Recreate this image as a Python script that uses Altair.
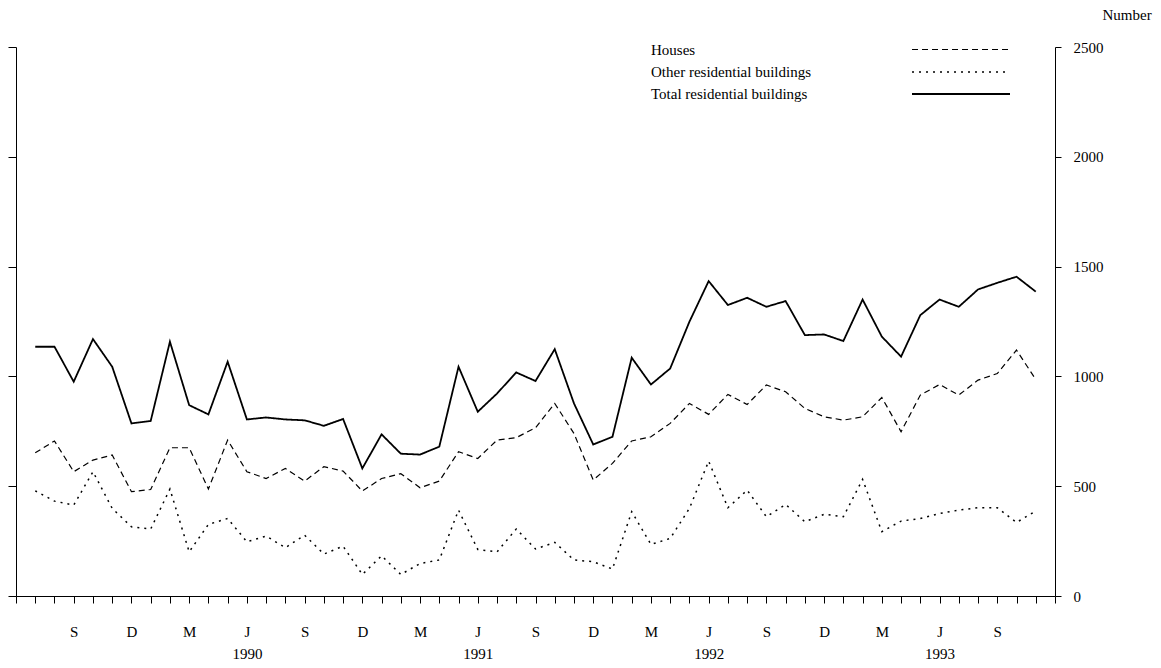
import altair as alt
import pandas as pd

# ---- data ----
all_months = [f"{y}-{m:02d}" for y in range(1989, 1994) for m in range(1, 13)]
months = all_months[all_months.index("1989-07"): all_months.index("1993-11") + 1]
axis_months = ["1989-06"] + months + ["1993-12"]

series_names = ["Houses", "Other residential buildings", "Total residential buildings"]

houses = [652, 706, 566, 619, 642, 475, 485, 675, 675, 487, 710, 566, 535, 581, 523, 589,
          569, 478, 535, 557, 493, 523, 657, 626, 710, 721, 766, 877, 740, 528, 604, 706,
          725, 786, 877, 827, 918, 872, 961, 930, 854, 816, 801, 816, 904, 748, 915, 963,
          915, 983, 1013, 1120, 986]
other = [479, 432, 414, 566, 399, 315, 305, 487, 201, 326, 353, 247, 273, 220, 277, 191,
         227, 98, 183, 98, 148, 164, 391, 212, 201, 305, 214, 244, 164, 156, 123, 384,
         235, 262, 399, 614, 402, 482, 361, 417, 338, 372, 361, 531, 293, 341, 353, 376,
         391, 402, 402, 335, 387]
total = [1135, 1135, 976, 1170, 1044, 786, 797, 1158, 869, 827, 1067, 804, 813, 804, 800, 775,
         806, 581, 736, 648, 644, 680, 1044, 839, 922, 1018, 979, 1124, 877, 690, 725, 1085,
         963, 1036, 1249, 1434, 1325, 1358, 1317, 1343, 1188, 1191, 1161, 1350, 1181, 1090, 1279, 1350,
         1317, 1396, 1426, 1454, 1386]
y_ticks = [0, 500, 1000, 1500, 2000, 2500]

rows = []
for name, vals in zip(series_names, [houses, other, total]):
    for m, v in zip(months, vals):
        rows.append({"month": m, "series": name, "value": v})
df = pd.DataFrame(rows)

FONT = "Liberation Serif"

m = "substring(datum.value, 5, 7)"
label_expr = (
    f"(datum.value == '1993-12' || datum.value == '1989-06') ? '' : "
    f"{m} == '09' ? 'S' : {m} == '12' ? 'D' : {m} == '03' ? 'M' : "
    f"{m} == '06' ? ['J', substring(datum.value, 0, 4)] : ''"
)

x_enc = alt.X(
    "month:O",
    sort=axis_months,
    scale=alt.Scale(type="point", domain=axis_months, padding=0),
    axis=alt.Axis(
        title=None, labelExpr=label_expr, labelOverlap=False, labelAngle=0,
        tickSize=7, labelPadding=21, labelLineHeight=22, labelBaseline="top",
        labelFont=FONT, labelFontSize=15, labelColor="black",
        domainColor="black", tickColor="black", grid=False, labelFlush=False,
    ),
)

y_scale = alt.Scale(domain=[0, 2500], nice=False)

lines = alt.Chart(df).mark_line(color="black", strokeCap="butt").encode(
    x=x_enc,
    y=alt.Y("value:Q", scale=y_scale,
            axis=alt.Axis(orient="left", values=y_ticks,
                          labels=False, tickSize=8, title=None, grid=False,
                          domainColor="black", tickColor="black")),
    strokeDash=alt.StrokeDash(
        "series:N",
        scale=alt.Scale(domain=series_names, range=[[6, 4], [2, 5], [1, 0]]),
        legend=alt.Legend(
            title=None, orient="none", legendX=934, legendY=-8, padding=0,
            symbolType="M-5,0H5", symbolSize=384, symbolStrokeColor="black",
            symbolStrokeWidth=1.3, symbolFillColor="transparent",
            labelOffset={"expr": "-321"}, labelLimit=0,
            labelFont=FONT, labelFontSize=15, labelColor="black",
            rowPadding=3,
        ),
    ),
    strokeWidth=alt.StrokeWidth(
        "series:N",
        scale=alt.Scale(domain=series_names, range=[1.2, 1.8, 1.2]),
        legend=None,
    ),
)

right = alt.Chart(df).mark_point(opacity=0).encode(
    y=alt.Y("value:Q", scale=y_scale,
            axis=alt.Axis(orient="right", values=y_ticks, format="d",
                          tickSize=6, labelPadding=12, grid=False,
                          labelFont=FONT, labelFontSize=15, labelColor="black",
                          domainColor="black", tickColor="black",
                          title="Number", titleAngle=0, titleAlign="left",
                          titleBaseline="alphabetic", titleX=47, titleY=-28,
                          titleFont=FONT, titleFontSize=15, titleFontWeight="normal",
                          titleColor="black")),
)

chart = alt.layer(lines, right).resolve_axis(y="independent").properties(
    width=1039, height=549,
    autosize=alt.AutoSizeParams(type="none"),
    padding={"left": 8, "top": 39, "right": 98, "bottom": 68},
    background="white",
).configure_view(stroke=None)

chart.save("out.html", embed_options={"renderer": "svg", "actions": False})
